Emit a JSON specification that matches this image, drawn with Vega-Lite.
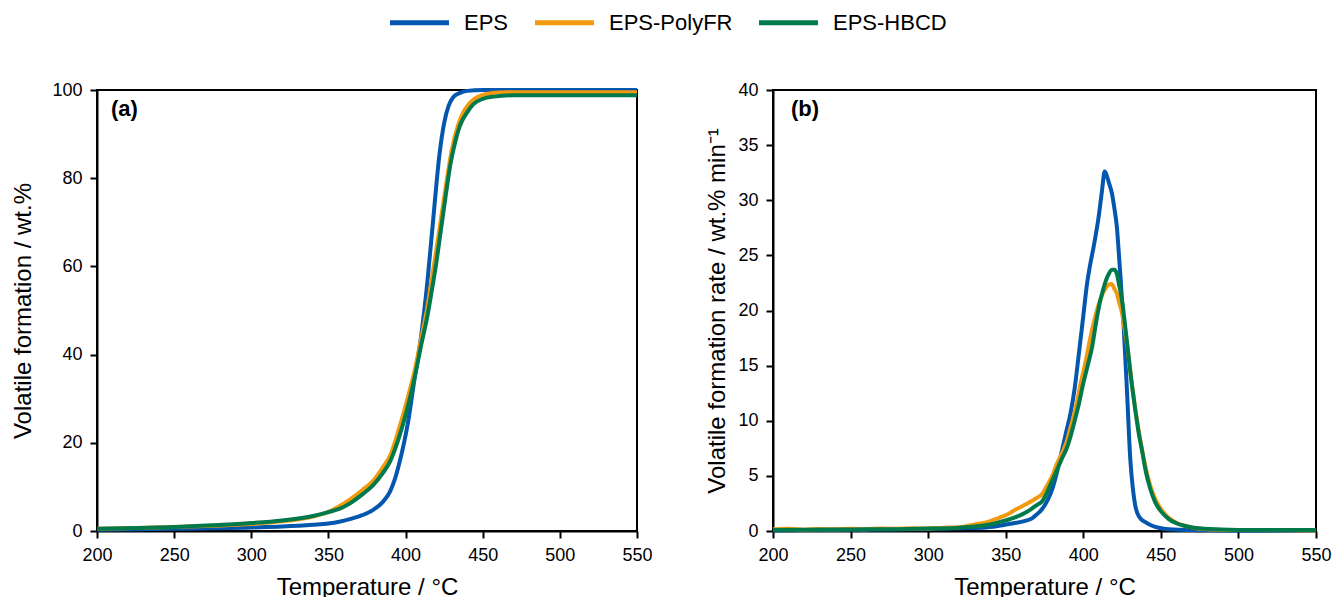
{
"$schema":"https://vega.github.io/schema/vega-lite/v6.json",
"background":"white",
"padding":{"left":10,"top":5,"right":10,"bottom":5},
"config":{"font":"Liberation Sans","view":{"stroke":"black","strokeWidth":2},
"axis":{"domainColor":"black","domainWidth":2,"tickColor":"black","tickWidth":2,"tickSize":7,"labelFontSize":18,"labelColor":"black","titleFontSize":24,"titleFontWeight":"normal","titleColor":"black","grid":false,"labelFlush":false,"labelFont":"Liberation Sans","titleFont":"Liberation Sans"},
"axisX":{"labelPadding":8,"titlePadding":11},
"axisY":{"labelPadding":8}},
"datasets":{
"tga":[
{"T":200,"s":"EPS","v":0.3},{"T":225,"s":"EPS","v":0.4},{"T":250,"s":"EPS","v":0.5},{"T":275,"s":"EPS","v":0.6},{"T":300,"s":"EPS","v":0.8},{"T":320,"s":"EPS","v":1.0},{"T":340,"s":"EPS","v":1.4},{"T":350,"s":"EPS","v":1.7},{"T":357,"s":"EPS","v":2.1},{"T":365,"s":"EPS","v":2.8},{"T":372,"s":"EPS","v":3.6},{"T":379,"s":"EPS","v":4.8},{"T":385,"s":"EPS","v":6.5},{"T":390,"s":"EPS","v":9.0},{"T":393,"s":"EPS","v":11.7},{"T":396,"s":"EPS","v":15.5},{"T":399,"s":"EPS","v":20},{"T":402,"s":"EPS","v":25.5},{"T":406,"s":"EPS","v":35},{"T":410,"s":"EPS","v":44},{"T":414,"s":"EPS","v":56},{"T":418,"s":"EPS","v":71},{"T":422,"s":"EPS","v":85.5},{"T":425,"s":"EPS","v":92.5},{"T":428,"s":"EPS","v":96.5},{"T":431,"s":"EPS","v":98.4},{"T":435,"s":"EPS","v":99.3},{"T":440,"s":"EPS","v":99.8},{"T":450,"s":"EPS","v":100},{"T":500,"s":"EPS","v":100},{"T":550,"s":"EPS","v":100},
{"T":200,"s":"EPS-PolyFR","v":0.5},{"T":225,"s":"EPS-PolyFR","v":0.7},{"T":250,"s":"EPS-PolyFR","v":0.9},{"T":275,"s":"EPS-PolyFR","v":1.2},{"T":300,"s":"EPS-PolyFR","v":1.6},{"T":320,"s":"EPS-PolyFR","v":2.2},{"T":340,"s":"EPS-PolyFR","v":3.3},{"T":350,"s":"EPS-PolyFR","v":4.3},{"T":357,"s":"EPS-PolyFR","v":5.6},{"T":365,"s":"EPS-PolyFR","v":7.4},{"T":372,"s":"EPS-PolyFR","v":9.3},{"T":379,"s":"EPS-PolyFR","v":11.4},{"T":385,"s":"EPS-PolyFR","v":14.3},{"T":390,"s":"EPS-PolyFR","v":17.1},{"T":396,"s":"EPS-PolyFR","v":23.5},{"T":402,"s":"EPS-PolyFR","v":31},{"T":406,"s":"EPS-PolyFR","v":36.5},{"T":410,"s":"EPS-PolyFR","v":43.5},{"T":414,"s":"EPS-PolyFR","v":50.5},{"T":418,"s":"EPS-PolyFR","v":59.5},{"T":422,"s":"EPS-PolyFR","v":68.5},{"T":426,"s":"EPS-PolyFR","v":78},{"T":430,"s":"EPS-PolyFR","v":86.5},{"T":434,"s":"EPS-PolyFR","v":92},{"T":438,"s":"EPS-PolyFR","v":95.3},{"T":442,"s":"EPS-PolyFR","v":97.2},{"T":446,"s":"EPS-PolyFR","v":98.3},{"T":450,"s":"EPS-PolyFR","v":98.9},{"T":456,"s":"EPS-PolyFR","v":99.3},{"T":465,"s":"EPS-PolyFR","v":99.5},{"T":550,"s":"EPS-PolyFR","v":99.5},
{"T":200,"s":"EPS-HBCD","v":0.5},{"T":225,"s":"EPS-HBCD","v":0.7},{"T":250,"s":"EPS-HBCD","v":0.9},{"T":275,"s":"EPS-HBCD","v":1.3},{"T":300,"s":"EPS-HBCD","v":1.8},{"T":320,"s":"EPS-HBCD","v":2.4},{"T":340,"s":"EPS-HBCD","v":3.4},{"T":350,"s":"EPS-HBCD","v":4.3},{"T":357,"s":"EPS-HBCD","v":5.0},{"T":365,"s":"EPS-HBCD","v":6.5},{"T":372,"s":"EPS-HBCD","v":8.3},{"T":379,"s":"EPS-HBCD","v":10.4},{"T":385,"s":"EPS-HBCD","v":13},{"T":390,"s":"EPS-HBCD","v":15.8},{"T":396,"s":"EPS-HBCD","v":21.5},{"T":402,"s":"EPS-HBCD","v":29},{"T":406,"s":"EPS-HBCD","v":35},{"T":410,"s":"EPS-HBCD","v":42},{"T":414,"s":"EPS-HBCD","v":48.5},{"T":417,"s":"EPS-HBCD","v":54.5},{"T":420,"s":"EPS-HBCD","v":61},{"T":422,"s":"EPS-HBCD","v":66},{"T":426,"s":"EPS-HBCD","v":76},{"T":429,"s":"EPS-HBCD","v":83},{"T":432,"s":"EPS-HBCD","v":88},{"T":435,"s":"EPS-HBCD","v":91.7},{"T":440,"s":"EPS-HBCD","v":95},{"T":444,"s":"EPS-HBCD","v":96.8},{"T":450,"s":"EPS-HBCD","v":98},{"T":457,"s":"EPS-HBCD","v":98.5},{"T":470,"s":"EPS-HBCD","v":98.8},{"T":550,"s":"EPS-HBCD","v":98.8}
],
"dtg":[
{"T":200,"s":"EPS","v":0.05},{"T":220,"s":"EPS","v":0.08},{"T":240,"s":"EPS","v":0.1},{"T":260,"s":"EPS","v":0.12},{"T":280,"s":"EPS","v":0.15},{"T":300,"s":"EPS","v":0.18},{"T":320,"s":"EPS","v":0.25},{"T":335,"s":"EPS","v":0.3},{"T":345,"s":"EPS","v":0.45},{"T":355,"s":"EPS","v":0.7},{"T":362,"s":"EPS","v":0.9},{"T":367,"s":"EPS","v":1.15},{"T":370,"s":"EPS","v":1.5},{"T":373.5,"s":"EPS","v":2.0},{"T":377,"s":"EPS","v":2.8},{"T":380,"s":"EPS","v":3.8},{"T":383,"s":"EPS","v":5.3},{"T":386.4,"s":"EPS","v":7.4},{"T":389,"s":"EPS","v":9.0},{"T":391.8,"s":"EPS","v":10.7},{"T":394.5,"s":"EPS","v":13},{"T":397,"s":"EPS","v":15.9},{"T":400,"s":"EPS","v":19.5},{"T":402.4,"s":"EPS","v":22.4},{"T":404.5,"s":"EPS","v":24.2},{"T":406.7,"s":"EPS","v":25.8},{"T":410,"s":"EPS","v":28.6},{"T":412,"s":"EPS","v":30.8},{"T":413.8,"s":"EPS","v":32.6},{"T":415,"s":"EPS","v":32.3},{"T":416.5,"s":"EPS","v":31.6},{"T":418.5,"s":"EPS","v":30.6},{"T":420,"s":"EPS","v":29.3},{"T":421.7,"s":"EPS","v":27.5},{"T":423,"s":"EPS","v":25},{"T":424,"s":"EPS","v":23.0},{"T":426,"s":"EPS","v":18.6},{"T":428.2,"s":"EPS","v":12.6},{"T":430.3,"s":"EPS","v":6.5},{"T":432,"s":"EPS","v":3.8},{"T":433.5,"s":"EPS","v":2.3},{"T":436,"s":"EPS","v":1.3},{"T":440,"s":"EPS","v":0.8},{"T":444,"s":"EPS","v":0.5},{"T":448.5,"s":"EPS","v":0.3},{"T":455,"s":"EPS","v":0.15},{"T":470,"s":"EPS","v":0.08},{"T":500,"s":"EPS","v":0.05},{"T":550,"s":"EPS","v":0.05},
{"T":200,"s":"EPS-PolyFR","v":0.15},{"T":210,"s":"EPS-PolyFR","v":0.2},{"T":220,"s":"EPS-PolyFR","v":0.12},{"T":230,"s":"EPS-PolyFR","v":0.18},{"T":240,"s":"EPS-PolyFR","v":0.15},{"T":250,"s":"EPS-PolyFR","v":0.2},{"T":260,"s":"EPS-PolyFR","v":0.17},{"T":270,"s":"EPS-PolyFR","v":0.22},{"T":280,"s":"EPS-PolyFR","v":0.2},{"T":290,"s":"EPS-PolyFR","v":0.25},{"T":300,"s":"EPS-PolyFR","v":0.22},{"T":310,"s":"EPS-PolyFR","v":0.3},{"T":320,"s":"EPS-PolyFR","v":0.35},{"T":330,"s":"EPS-PolyFR","v":0.6},{"T":338,"s":"EPS-PolyFR","v":0.8},{"T":345.7,"s":"EPS-PolyFR","v":1.2},{"T":351,"s":"EPS-PolyFR","v":1.5},{"T":356.4,"s":"EPS-PolyFR","v":1.95},{"T":362,"s":"EPS-PolyFR","v":2.35},{"T":367,"s":"EPS-PolyFR","v":2.75},{"T":370,"s":"EPS-PolyFR","v":3.0},{"T":373.5,"s":"EPS-PolyFR","v":3.35},{"T":376,"s":"EPS-PolyFR","v":3.95},{"T":380,"s":"EPS-PolyFR","v":5.0},{"T":383,"s":"EPS-PolyFR","v":6.1},{"T":386.4,"s":"EPS-PolyFR","v":7.1},{"T":389.3,"s":"EPS-PolyFR","v":8.1},{"T":392,"s":"EPS-PolyFR","v":9.5},{"T":395,"s":"EPS-PolyFR","v":11.1},{"T":398,"s":"EPS-PolyFR","v":13.2},{"T":401.4,"s":"EPS-PolyFR","v":15.3},{"T":404.5,"s":"EPS-PolyFR","v":17.5},{"T":407.8,"s":"EPS-PolyFR","v":19.5},{"T":411,"s":"EPS-PolyFR","v":21.0},{"T":414.3,"s":"EPS-PolyFR","v":22.0},{"T":416,"s":"EPS-PolyFR","v":22.3},{"T":418.1,"s":"EPS-PolyFR","v":22.4},{"T":420,"s":"EPS-PolyFR","v":22.0},{"T":421.7,"s":"EPS-PolyFR","v":21.5},{"T":423,"s":"EPS-PolyFR","v":20.8},{"T":424.9,"s":"EPS-PolyFR","v":19.8},{"T":426.5,"s":"EPS-PolyFR","v":18.4},{"T":428.2,"s":"EPS-PolyFR","v":16.9},{"T":431.4,"s":"EPS-PolyFR","v":13.2},{"T":435.7,"s":"EPS-PolyFR","v":9.1},{"T":440,"s":"EPS-PolyFR","v":5.9},{"T":443,"s":"EPS-PolyFR","v":4.2},{"T":446.4,"s":"EPS-PolyFR","v":2.9},{"T":450,"s":"EPS-PolyFR","v":2.0},{"T":455,"s":"EPS-PolyFR","v":1.2},{"T":460,"s":"EPS-PolyFR","v":0.75},{"T":466,"s":"EPS-PolyFR","v":0.45},{"T":475,"s":"EPS-PolyFR","v":0.2},{"T":490,"s":"EPS-PolyFR","v":0.1},{"T":520,"s":"EPS-PolyFR","v":0.08},{"T":550,"s":"EPS-PolyFR","v":0.05},
{"T":200,"s":"EPS-HBCD","v":0.1},{"T":220,"s":"EPS-HBCD","v":0.12},{"T":240,"s":"EPS-HBCD","v":0.13},{"T":260,"s":"EPS-HBCD","v":0.15},{"T":280,"s":"EPS-HBCD","v":0.17},{"T":300,"s":"EPS-HBCD","v":0.22},{"T":320,"s":"EPS-HBCD","v":0.3},{"T":330,"s":"EPS-HBCD","v":0.4},{"T":338,"s":"EPS-HBCD","v":0.55},{"T":345.7,"s":"EPS-HBCD","v":0.8},{"T":351,"s":"EPS-HBCD","v":1.0},{"T":356.4,"s":"EPS-HBCD","v":1.25},{"T":362,"s":"EPS-HBCD","v":1.6},{"T":367,"s":"EPS-HBCD","v":2.05},{"T":370,"s":"EPS-HBCD","v":2.35},{"T":373.5,"s":"EPS-HBCD","v":2.7},{"T":376,"s":"EPS-HBCD","v":3.3},{"T":378.5,"s":"EPS-HBCD","v":4.1},{"T":382,"s":"EPS-HBCD","v":5.2},{"T":386,"s":"EPS-HBCD","v":6.5},{"T":389.3,"s":"EPS-HBCD","v":7.5},{"T":392,"s":"EPS-HBCD","v":8.7},{"T":395,"s":"EPS-HBCD","v":10.3},{"T":397.1,"s":"EPS-HBCD","v":11.5},{"T":400,"s":"EPS-HBCD","v":13.4},{"T":403,"s":"EPS-HBCD","v":15.1},{"T":405.7,"s":"EPS-HBCD","v":16.7},{"T":408,"s":"EPS-HBCD","v":18.7},{"T":410.8,"s":"EPS-HBCD","v":20.8},{"T":413,"s":"EPS-HBCD","v":22.0},{"T":416,"s":"EPS-HBCD","v":23.2},{"T":418.5,"s":"EPS-HBCD","v":23.7},{"T":420,"s":"EPS-HBCD","v":23.7},{"T":421.7,"s":"EPS-HBCD","v":23.3},{"T":423,"s":"EPS-HBCD","v":22.4},{"T":424.9,"s":"EPS-HBCD","v":21},{"T":426.5,"s":"EPS-HBCD","v":19.2},{"T":428.2,"s":"EPS-HBCD","v":17.1},{"T":431.4,"s":"EPS-HBCD","v":13.2},{"T":433.5,"s":"EPS-HBCD","v":11},{"T":435.7,"s":"EPS-HBCD","v":8.9},{"T":438,"s":"EPS-HBCD","v":7.2},{"T":440,"s":"EPS-HBCD","v":5.6},{"T":443,"s":"EPS-HBCD","v":3.9},{"T":446.4,"s":"EPS-HBCD","v":2.6},{"T":450,"s":"EPS-HBCD","v":1.8},{"T":454.9,"s":"EPS-HBCD","v":1.1},{"T":460,"s":"EPS-HBCD","v":0.7},{"T":465.7,"s":"EPS-HBCD","v":0.45},{"T":478,"s":"EPS-HBCD","v":0.2},{"T":500,"s":"EPS-HBCD","v":0.1},{"T":550,"s":"EPS-HBCD","v":0.08}
]},
"spacing":136,
"bounds":"flush",
"hconcat":[
{"width":540,"height":441,
"layer":[
{"data":{"name":"tga"},"mark":{"type":"line","strokeWidth":4,"interpolate":"monotone"},
"encoding":{
"x":{"field":"T","type":"quantitative","scale":{"domain":[200,550],"nice":false},"axis":{"values":[200,250,300,350,400,450,500,550],"title":"Temperature / °C"}},
"y":{"field":"v","type":"quantitative","scale":{"domain":[0,100],"nice":false},"axis":{"values":[0,20,40,60,80,100],"title":"Volatile formation / wt.%","titlePadding":16}},
"color":{"field":"s","type":"nominal","scale":{"domain":["EPS","EPS-PolyFR","EPS-HBCD"],"range":["#0457AE","#F29A0E","#00794B"]},
"legend":{"title":null,"orient":"none","legendX":305,"legendY":-85,"direction":"horizontal","symbolType":"M-2,0H2","symbolSize":870,"symbolStrokeWidth":5,"labelFontSize":22,"labelColor":"black","labelOffset":27,"columnPadding":16}}}},
{"data":{"values":[{}]},"mark":{"type":"text","text":"(a)","fontWeight":"bold","fontSize":22,"align":"left","baseline":"middle","color":"black"},
"encoding":{"x":{"datum":209,"type":"quantitative"},"y":{"datum":95.7,"type":"quantitative"}}}
]},
{"width":543,"height":441,
"layer":[
{"data":{"name":"dtg"},"mark":{"type":"line","strokeWidth":4,"interpolate":"monotone"},
"encoding":{
"x":{"field":"T","type":"quantitative","scale":{"domain":[200,550],"nice":false},"axis":{"values":[200,250,300,350,400,450,500,550],"title":"Temperature / °C"}},
"y":{"field":"v","type":"quantitative","scale":{"domain":[0,40],"nice":false},"axis":{"values":[0,5,10,15,20,25,30,35,40],"title":"Volatile formation rate / wt.% min⁻¹","titlePadding":8}},
"color":{"field":"s","type":"nominal","scale":{"domain":["EPS","EPS-PolyFR","EPS-HBCD"],"range":["#0457AE","#F29A0E","#00794B"]}}}},
{"data":{"values":[{}]},"mark":{"type":"text","text":"(b)","fontWeight":"bold","fontSize":22,"align":"left","baseline":"middle","color":"black"},
"encoding":{"x":{"datum":211.6,"type":"quantitative"},"y":{"datum":38.26,"type":"quantitative"}}}
]}
]
}
